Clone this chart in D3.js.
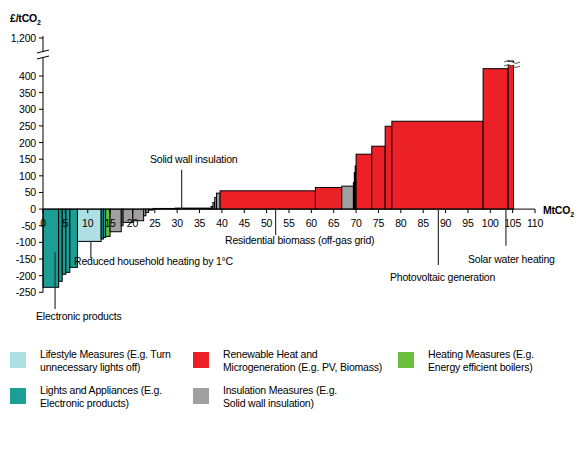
<!DOCTYPE html>
<html><head><meta charset="utf-8">
<script src="https://cdn.jsdelivr.net/npm/d3@7"></script>
<style>body{margin:0;background:#fff}text{font-family:"Liberation Sans",Arial,sans-serif;letter-spacing:-0.2px}</style>
</head><body><svg id="c" width="576" height="454"></svg>
<script>
// abatement options: width (MtCO2), cost (£/tCO2), category
const widths = [3.5,0.8,0.8,0.9,1.7, 5.3, 0.5,0.5, 1.0, 2.5,0.4,2.2,2.4,0.5,0.6,1.0, 5,8,0.4,0.4,0.4,0.8, 21.3,5.9, 2.6, 0.2,0.2,0.2, 3.5,3,1.5,20.4,5.6,1.2];
const costs  = [-235,-217,-196,-190,-175, -97, -90,-85, -82, -68,-50,-40,-35,-20,-10,-3, 2,3,8,20,35,48, 55,65, 69, 80,110,130, 165,189,249,264,422,445];
const cats   = ['L','L','L','L','L','S','L','L','H','I','I','I','I','I','I','I','I','I','I','I','I','I','R','R','I','I','I','I','R','R','R','R','R','R'];
const yTicks = [-250,-200,-150,-100,-50,0,50,100,150,200,250,300,350,400];
const xTicks = d3.range(0,111,5);
const colors = {L:'#1a9e96',S:'#aee0e3',H:'#6cbf3a',I:'#a0a0a0',R:'#ec2027'};
const legend = [
  {c:'S',t:['Lifestyle Measures (E.g. Turn','unnecessary lights off)']},
  {c:'R',t:['Renewable Heat and','Microgeneration (E.g. PV, Biomass)']},
  {c:'H',t:['Heating Measures (E.g.','Energy efficient boilers)']},
  {c:'L',t:['Lights and Appliances (E.g.','Electronic products)']},
  {c:'I',t:['Insulation Measures (E.g.','Solid wall insulation)']}
];
const notes = [
  {x:31, y0:0, y1:118, t:'Solid wall insulation', tx:150, ty:163},
  {x:2.7, y0:-130, y1:-300, t:'Electronic products', tx:36, ty:320},
  {x:10.7, y0:-97, y1:-148, t:'Reduced household heating by 1°C', tx:74, ty:265},
  {x:52, y0:0, y1:-78, t:'Residential biomass (off-gas grid)', tx:225, ty:244},
  {x:88.4, y0:0, y1:-168, t:'Photovoltaic generation', tx:390, ty:281},
  {x:103.5, y0:0, y1:-110, t:'Solar water heating', tx:468, ty:263}
];

const svg = d3.select('#c');
const x = d3.scaleLinear().domain([0,110]).range([43,535]);
const y = d3.scaleLinear().domain([-250,400]).range([292.3,76]);
const fs = 10.5;

let acc = 0;
const bars = widths.map((w,i) => { const b = {x0:acc, x1:acc+w, v:costs[i], c:cats[i]}; acc += w; return b; });

svg.selectAll('rect.bar').data(bars).enter().append('rect')
  .attr('x', d => x(d.x0)).attr('width', d => x(d.x1)-x(d.x0))
  .attr('y', d => Math.min(y(d.v), y(0))).attr('height', d => Math.abs(y(d.v)-y(0)))
  .attr('fill', d => colors[d.c]).attr('stroke', '#000').attr('stroke-width', 1);

// break on the last bar
const lb = bars[bars.length-1];
svg.append('rect').attr('x', x(lb.x0)-3).attr('y', 62).attr('width', x(lb.x1)-x(lb.x0)+6).attr('height', 3).attr('fill', '#fff');
[61,65].forEach(yy => svg.append('path').attr('d', `M${x(lb.x0)-4},${yy+1} q4,-3 8,0 t8,0`).attr('fill','none').attr('stroke','#555'));

// x axis
svg.append('line').attr('x1', x(0)).attr('x2', x(110)).attr('y1', y(0)).attr('y2', y(0)).attr('stroke', '#000');
svg.selectAll('line.xt').data(xTicks).enter().append('line')
  .attr('x1', d => x(d)).attr('x2', d => x(d)).attr('y1', y(0)).attr('y2', y(0)+4).attr('stroke', '#000');
svg.selectAll('text.xt').data(xTicks).enter().append('text')
  .attr('x', d => x(d)).attr('y', y(0)+18).attr('text-anchor', 'middle').attr('font-size', fs).text(d => d);
svg.append('text').attr('x', 543).attr('y', 214).attr('font-size', fs).attr('font-weight', 'bold').text('MtCO').append('tspan').attr('font-size', 7).attr('dy', 3).text('2');

// y axis
svg.append('line').attr('x1', 43).attr('x2', 43).attr('y1', 36).attr('y2', y(-250)).attr('stroke', '#000');
svg.selectAll('line.yt').data(yTicks.concat([1200])).enter().append('line')
  .attr('x1', 39).attr('x2', 43).attr('y1', d => d===1200 ? 38 : y(d)).attr('y2', d => d===1200 ? 38 : y(d)).attr('stroke', '#000');
svg.selectAll('text.yt').data(yTicks).enter().append('text')
  .attr('x', 36).attr('y', d => y(d)+4).attr('text-anchor', 'end').attr('font-size', fs).text(d => d);
svg.append('text').attr('x', 36).attr('y', 42).attr('text-anchor', 'end').attr('font-size', fs).text('1,200');
svg.append('rect').attr('x', 38).attr('y', 52).attr('width', 10).attr('height', 5).attr('fill', '#fff');
[51,57].forEach(yy => svg.append('line').attr('x1', 37).attr('x2', 49).attr('y1', yy+2).attr('y2', yy-1).attr('stroke', '#000'));
svg.append('text').attr('x', 10).attr('y', 22).attr('font-size', fs).attr('font-weight', 'bold').text('£/tCO').append('tspan').attr('font-size', 7).attr('dy', 3).text('2');

// annotations
notes.forEach(n => {
  svg.append('line').attr('x1', x(n.x)).attr('x2', x(n.x)).attr('y1', y(n.y0)).attr('y2', y(n.y1)).attr('stroke', '#333').attr('stroke-width', 1.2);
  svg.append('text').attr('x', n.tx).attr('y', n.ty).attr('font-size', fs).text(n.t);
});

// legend
const lpos = [[10,352],[193,352],[398,352],[10,388],[193,388]];
legend.forEach((l,i) => {
  const [lx,ly] = lpos[i];
  svg.append('rect').attr('x', lx).attr('y', ly).attr('width', 16).attr('height', 16).attr('fill', colors[l.c]);
  l.t.forEach((t,j) => svg.append('text').attr('x', lx+30).attr('y', ly+6+j*13).attr('font-size', fs).text(t));
});
</script></body></html>
